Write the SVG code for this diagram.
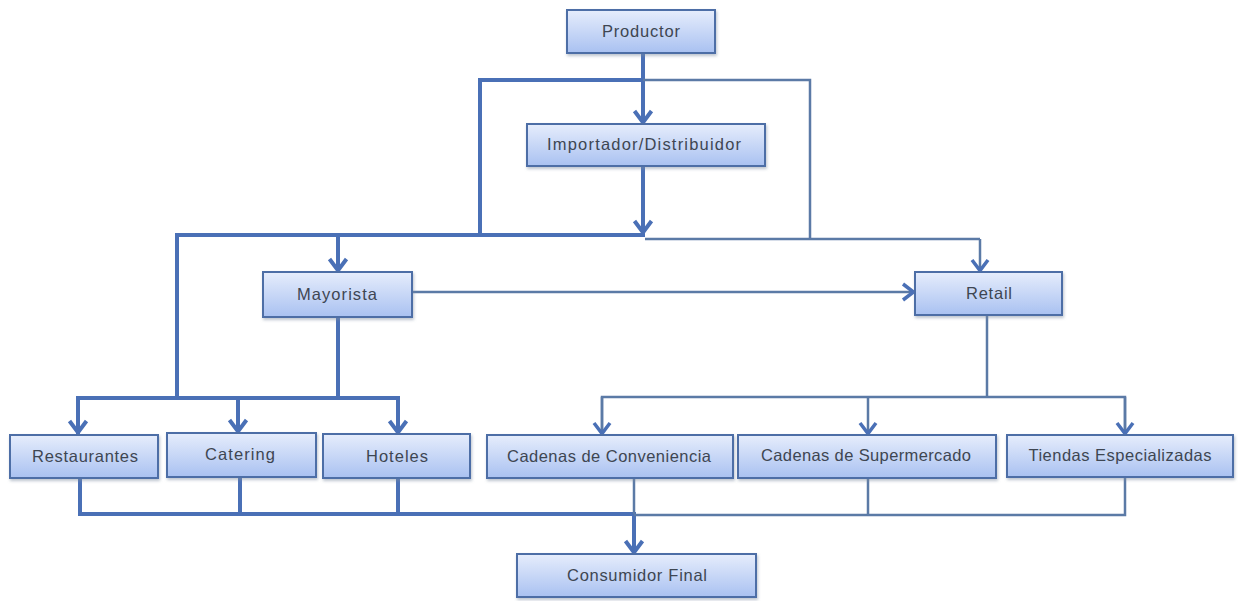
<svg xmlns="http://www.w3.org/2000/svg" width="1239" height="601" viewBox="0 0 1239 601">
<style>
.box{fill:url(#g);stroke:#4e6ea6;stroke-width:2;filter:url(#sh)}
.t{font-family:"Liberation Sans",Arial,sans-serif;font-size:16.5px;fill:#3e4652;text-anchor:middle}
.thick{fill:none;stroke:#4a70b6;stroke-width:4;stroke-linejoin:miter}
.thin{fill:none;stroke:#5b7aa6;stroke-width:2.5}
.ta{marker-end:url(#ah)}
.na{marker-end:url(#ah2)}
</style>
<defs>
<linearGradient id="g" x1="0" y1="0" x2="0" y2="1">
<stop offset="0" stop-color="#e6edfc"/>
<stop offset="1" stop-color="#a9c1f1"/>
</linearGradient>
<filter id="sh" x="-10%" y="-20%" width="120%" height="150%">
<feDropShadow dx="1" dy="2" stdDeviation="1.5" flood-color="#7d8aa0" flood-opacity="0.5"/>
</filter>
<marker id="ah" markerUnits="userSpaceOnUse" markerWidth="24" markerHeight="24" viewBox="-16 -12 18 24" refX="0" refY="0" orient="auto">
<path d="M-13,-8.5 L-1.5,0 L-13,8.5" fill="none" stroke="#4a70b6" stroke-width="4"/>
</marker>
<marker id="ah2" markerUnits="userSpaceOnUse" markerWidth="24" markerHeight="24" viewBox="-16 -12 18 24" refX="0" refY="0" orient="auto">
<path d="M-12,-8 L-1.5,0 L-12,8" fill="none" stroke="#4a70b6" stroke-width="3.5"/>
</marker>
</defs>
<rect width="1239" height="601" fill="#ffffff"/>
<g id="connectors">
<path class="thick ta" d="M643,53 V124"/>
<path class="thick" d="M480,80 H643"/>
<path class="thick" d="M480,78 V235"/>
<path class="thick ta" d="M643,166 V234"/>
<path class="thick" d="M177,237 V235 H645"/>
<path class="thick ta" d="M338,235 V272"/>
<path class="thick" d="M177,235 V398"/>
<path class="thick" d="M338,317 V398"/>
<path class="thick" d="M78,434 V398 H398 V434"/>
<path class="thick ta" d="M78,398 V434"/>
<path class="thick ta" d="M238,398 V433"/>
<path class="thick ta" d="M398,398 V434"/>
<path class="thick" d="M80,478 V514 H636"/>
<path class="thick" d="M240,477 V514"/>
<path class="thick" d="M398,478 V514"/>
<path class="thick ta" d="M634,514 V554"/>
<path class="thin" d="M643,80 H810 V239"/>
<path class="thin" d="M645,239 H980"/>
<path class="thin na" d="M980,239 V272"/>
<path class="thin na" d="M412,292 H915"/>
<path class="thin" d="M987,315 V397"/>
<path class="thin" d="M602,435 V397 H1125 V435"/>
<path class="thin na" d="M602,397 V435"/>
<path class="thin na" d="M868,397 V435"/>
<path class="thin na" d="M1125,397 V435"/>
<path class="thin" d="M634,478 V514"/>
<path class="thin" d="M634,515 H1125 V477"/>
<path class="thin" d="M868,478 V515"/>
</g>
<g id="productor"><rect class="box" x="567" y="10" width="148" height="43"/><text class="t" x="641" y="37" textLength="78" lengthAdjust="spacing">Productor</text></g>
<g id="importador"><rect class="box" x="527" y="124" width="238" height="42"/><text class="t" x="644" y="150" textLength="194" lengthAdjust="spacing">Importador/Distribuidor</text></g>
<g id="mayorista"><rect class="box" x="263" y="272" width="149" height="45"/><text class="t" x="337" y="300" textLength="80" lengthAdjust="spacing">Mayorista</text></g>
<g id="retail"><rect class="box" x="915" y="272" width="147" height="43"/><text class="t" x="989" y="299" textLength="46" lengthAdjust="spacing">Retail</text></g>
<g id="restaurantes"><rect class="box" x="10" y="435" width="148" height="43"/><text class="t" x="85" y="462" textLength="106" lengthAdjust="spacing">Restaurantes</text></g>
<g id="catering"><rect class="box" x="167" y="433" width="149" height="44"/><text class="t" x="240" y="460" textLength="70" lengthAdjust="spacing">Catering</text></g>
<g id="hoteles"><rect class="box" x="323" y="434" width="147" height="44"/><text class="t" x="397" y="462" textLength="62" lengthAdjust="spacing">Hoteles</text></g>
<g id="conveniencia"><rect class="box" x="487" y="435" width="246" height="43"/><text class="t" x="609" y="462" textLength="204" lengthAdjust="spacing">Cadenas de Conveniencia</text></g>
<g id="supermercado"><rect class="box" x="738" y="435" width="258" height="43"/><text class="t" x="866" y="461" textLength="210" lengthAdjust="spacing">Cadenas de Supermercado</text></g>
<g id="tiendas"><rect class="box" x="1007" y="435" width="226" height="42"/><text class="t" x="1120" y="461" textLength="183" lengthAdjust="spacing">Tiendas Especializadas</text></g>
<g id="consumidor"><rect class="box" x="517" y="554" width="239" height="43"/><text class="t" x="637" y="581" textLength="140" lengthAdjust="spacing">Consumidor Final</text></g>
</svg>
